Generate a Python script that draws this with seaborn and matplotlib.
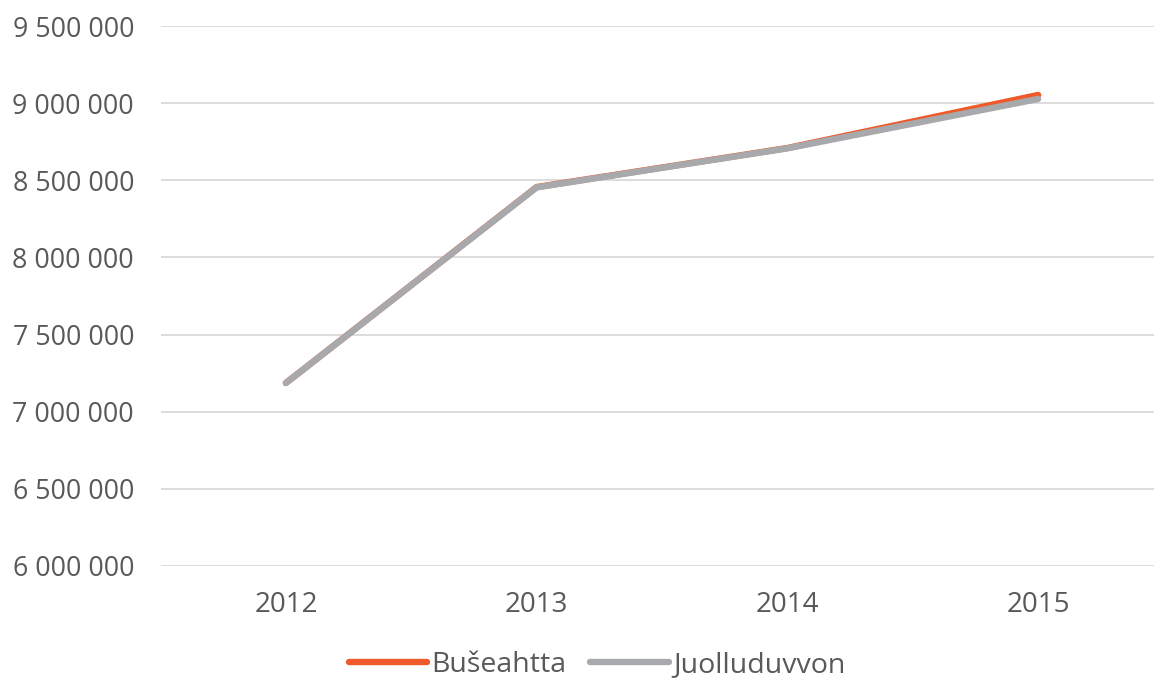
import matplotlib
matplotlib.use("Agg")
from matplotlib import pyplot as plt
from matplotlib.ticker import FuncFormatter
import seaborn as sns
import pandas as pd

# Data
years = ["2012", "2013", "2014", "2015"]
buseahtta = [7186000, 8456000, 8709000, 9053000]
juolluduvvon = [7186000, 8454000, 8707000, 9027000]
series_names = ["Bušeahtta", "Juolluduvvon"]
colors = ["#EE5A2A", "#A8A9AD"]
y_ticks = [6000000, 6500000, 7000000, 7500000, 8000000, 8500000, 9000000, 9500000]

df = pd.DataFrame({
    "year": years * 2,
    "value": buseahtta + juolluduvvon,
    "series": [series_names[0]] * 4 + [series_names[1]] * 4,
})

sns.set_style("white")
plt.rcParams['font.family'] = ['Open Sans', 'DejaVu Sans']

fig = plt.figure(figsize=(11.54, 6.8), dpi=100)
ax = fig.add_axes([160.5 / 1154, 114 / 680, 1003 / 1154, 540 / 680])

sns.lineplot(data=df, x="year", y="value", hue="series", palette=colors,
             linewidth=4.6, sort=False, ax=ax, solid_capstyle="round",
             solid_joinstyle="round")

ax.set_xlim(-0.5, 3.5)
ax.set_ylim(6000000, 9500000)
ax.set_yticks(y_ticks)
ax.yaxis.set_major_formatter(FuncFormatter(lambda v, p: f"{int(v):,}".replace(",", " ")))
ax.grid(axis="y", color="#D9D9D9", linewidth=1.3)
ax.set_axisbelow(True)
for s in ax.spines.values():
    s.set_visible(False)
ax.tick_params(axis="both", length=0, labelcolor="#595959")
ax.tick_params(axis="y", pad=19, labelsize=19.3)
ax.tick_params(axis="x", pad=18, labelsize=20)
ax.set_xlabel("")
ax.set_ylabel("")

handles, labels = ax.get_legend_handles_labels()
ax.get_legend().remove()
leg = fig.legend(handles, labels, loc="center", bbox_to_anchor=(597 / 1154, 1 - 665 / 680),
                 ncol=2, frameon=False, fontsize=20.5, handlelength=2.75,
                 handletextpad=0.15, columnspacing=0.85, labelcolor="#595959")
for line in leg.get_lines():
    line.set_linewidth(4.6)
    line.set_solid_capstyle("round")

fig.savefig("out.png", dpi=100)
